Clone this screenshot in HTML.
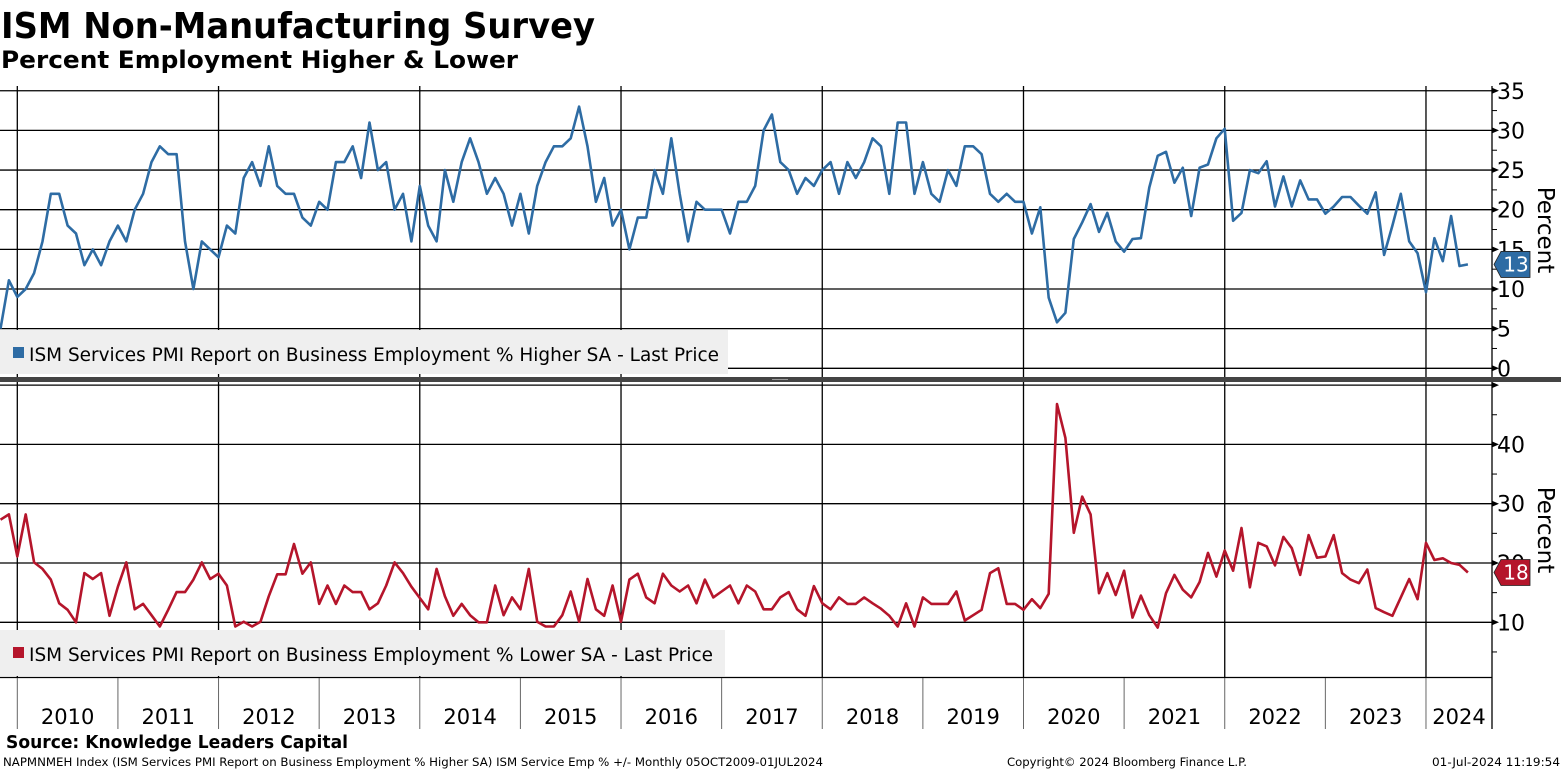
<!DOCTYPE html>
<html><head><meta charset="utf-8"><style>
html,body{margin:0;padding:0;background:#fff;}
svg{display:block;font-family:"DejaVu Sans","Liberation Sans",sans-serif;}
</style></head><body>
<svg id="chart" width="1561" height="771" viewBox="0 0 1561 771" xmlns="http://www.w3.org/2000/svg">
<text x="1" y="38" font-size="36" font-weight="bold" textLength="594" lengthAdjust="spacingAndGlyphs">ISM Non-Manufacturing Survey</text>
<text x="1" y="68" font-size="24" font-weight="bold" textLength="517" lengthAdjust="spacingAndGlyphs">Percent Employment Higher &amp; Lower</text>
<g id="grid"></g>
<rect x="0" y="330" width="728" height="44" fill="#efefef"/>
<rect x="0" y="630" width="725" height="46" fill="#efefef"/>
<g id="series"></g>
<rect x="13" y="347" width="11" height="11" fill="#2e6ca4"/>
<text x="29" y="361" font-size="19" textLength="690" lengthAdjust="spacingAndGlyphs">ISM Services PMI Report on Business Employment % Higher SA - Last Price</text>
<rect x="13" y="647" width="11" height="11" fill="#b5152b"/>
<text x="29" y="661" font-size="19" textLength="684" lengthAdjust="spacingAndGlyphs">ISM Services PMI Report on Business Employment % Lower SA - Last Price</text>
<rect x="0" y="377" width="1561" height="5" fill="#444"/>
<line x1="772" y1="379.5" x2="788" y2="379.5" stroke="#999" stroke-width="1"/>
<g id="axes"></g>
<text transform="translate(1538,230) rotate(90)" font-size="23" text-anchor="middle">Percent</text>
<text transform="translate(1538,530) rotate(90)" font-size="23" text-anchor="middle">Percent</text>
<text x="6" y="748" font-size="18" font-weight="bold" textLength="342" lengthAdjust="spacingAndGlyphs">Source: Knowledge Leaders Capital</text>
<text x="3" y="766" font-size="11.5" textLength="820" lengthAdjust="spacingAndGlyphs">NAPMNMEH Index (ISM Services PMI Report on Business Employment % Higher SA) ISM Service Emp % +/-  Monthly 05OCT2009-01JUL2024</text>
<text x="1007" y="766" font-size="11.5" textLength="240" lengthAdjust="spacingAndGlyphs">Copyright© 2024 Bloomberg Finance L.P.</text>
<text x="1432" y="766" font-size="11.5" textLength="128" lengthAdjust="spacingAndGlyphs">01-Jul-2024 11:19:54</text>
</svg>
<script>
// Monthly data, Nov 2009 .. Jun 2024
const higherValues = [5,11.1,
9,10,12,16,22,22,18,17,13,15,13,16,
18,16,20,22,26,28,27,27,16,10,16,15,
14,18,17,24,26,23,28,23,22,22,19,18,
21,20,26,26,28,24,31,25,26,20,22,16,
23,18,16,25,21,26,29,26,22,24,22,18,
22,17,23,26,28,28,29,33,28,21,24,18,
20,15,19,19,25,22,29,22,16,21,20,20,
20,17,21,21,23,30,32,26,25,22,24,23,
25,26,22,26,24,26,29,28,22,31,31,22,
26,22,21,25,23,28,28,27,22,21,22,21,
21,17,20.3,8.9,5.8,7,16.3,18.4,20.7,17.2,19.6,16,
14.7,16.3,16.4,22.8,26.8,27.3,23.4,25.3,19.2,25.3,25.7,29,
30.2,18.6,19.6,25,24.6,26.1,20.4,24.2,20.4,23.7,21.3,21.3,
19.5,20.4,21.6,21.6,20.5,19.5,22.2,14.3,18,22,16,14.5,
9.6,16.4,13.5,19.2,12.9,13.1];
const lowerValues = [27.3,28.2,
21.1,28.2,20.1,19,17.2,13.2,12.1,10,18.3,17.3,18.3,11.1,
16,20.1,12.2,13.1,11.2,9.3,12.1,15.1,15.1,17.2,20.1,17.3,
18.2,16.2,9.3,10.1,9.3,10.1,14.4,18.1,18.1,23.2,18.2,20.1,
13.1,16.2,13.1,16.2,15.1,15.1,12.2,13.2,16.2,20.1,18.3,16,
14.1,12.2,19,14.4,11.1,13.1,11.2,10,10,16.2,11.2,14.2,
12.2,19,10.1,9.3,9.3,11.2,15.2,10.1,17.3,12.2,11.1,16.2,
10.1,17.2,18.2,14.2,13.2,18.2,16.2,15.2,16.2,13.2,17.2,14.2,
15.2,16.2,13.2,16.2,15.2,12.2,12.2,14.2,15.1,12.2,11.1,16.1,
13.2,12.2,14.2,13.1,13.1,14.2,13.2,12.3,11.1,9.3,13.2,9.3,
14.2,13.1,13.1,13.1,15.2,10.3,11.2,12.1,18.3,19.1,13.1,13.1,
12.1,13.9,12.4,14.8,46.8,41.1,25.1,31.2,28.2,14.9,18.3,14.6,
18.7,10.8,14.5,11.2,9.1,14.9,18,15.5,14.2,16.8,21.7,17.7,
22.1,18.7,25.9,15.9,23.4,22.8,19.6,24.4,22.5,18,24.7,20.9,
21.1,24.7,18.3,17.2,16.6,18.9,12.4,11.7,11.1,14.2,17.3,13.9,
23.4,20.5,20.8,20,19.7,18.4];
const yearLabels = ["2010","2011","2012","2013","2014","2015","2016","2017","2018","2019","2020","2021","2022","2023","2024"];
const topTicks = [0,5,10,15,20,25,30,35];
const bottomTicks = [10,20,30,40];
const lastHigherLabel = "13";
const lastLowerLabel = "18";

const NS="http://www.w3.org/2000/svg";
const X0=17.3, MW=8.385, AXX=1492;
function xOf(i){return X0+(i-2)*MW;}
function yTop(v){return 368.3-7.93*v;}
function yBot(v){return 681.6-5.93*v;}
function mk(tag,attrs,parent){const e=document.createElementNS(NS,tag);for(const k in attrs)e.setAttribute(k,attrs[k]);parent.appendChild(e);return e;}
const grid=document.getElementById('grid'), axes=document.getElementById('axes'), series=document.getElementById('series');

topTicks.forEach(v=>{const l=mk('line',{x1:0,x2:AXX,y1:yTop(v),y2:yTop(v),stroke:'#000','stroke-width':1.3},grid);

});
bottomTicks.concat([50]).forEach(v=>{const l=mk('line',{x1:0,x2:AXX,y1:yBot(v),y2:yBot(v),stroke:'#000','stroke-width':1.3},grid);

});
for(let k=0;k<yearLabels.length;k+=2){const x=X0+k*12*MW;
 const a=mk('line',{x1:x,x2:x,y1:86,y2:377,stroke:'#000','stroke-width':1.3},grid);
 
 
 const b=mk('line',{x1:x,x2:x,y1:382,y2:677,stroke:'#000','stroke-width':1.3},grid);
 
 }

mk('line',{x1:0,x2:AXX,y1:677.5,y2:677.5,stroke:'#000','stroke-width':1.3},axes);
yearLabels.forEach((y,k)=>{const x=X0+k*12*MW;
 const t=mk('line',{x1:x,x2:x,y1:678,y2:729,stroke:'#666','stroke-width':1},axes);
 
 
 const xe=Math.min(X0+(k+1)*12*MW,AXX);
 const lab=mk('text',{x:(x+xe)/2,y:724,'font-size':21,'text-anchor':'middle'},axes);lab.textContent=y;
 
 });

mk('line',{x1:AXX,x2:AXX,y1:86,y2:377,stroke:'#000','stroke-width':1.3},axes);
mk('line',{x1:AXX,x2:AXX,y1:382,y2:729,stroke:'#000','stroke-width':1.3},axes);
function tickArrow(y){mk('path',{d:`M${AXX} ${y-3}L${AXX+7} ${y}L${AXX} ${y+3}Z`,fill:'#000'},axes);}
for(let v=0;v<=37.5;v+=2.5){const y=yTop(v);if(y<86)continue;
 if(v%5===0){tickArrow(y);}else mk('line',{x1:AXX,x2:AXX+5,y1:y,y2:y,stroke:'#000'},axes);}
topTicks.forEach(v=>{const t=mk('text',{x:AXX+5,y:yTop(v)+8,'font-size':22},axes);t.textContent=v;
 
 });
for(let v=5;v<=50;v+=5){const y=yBot(v);if(v%10===0)tickArrow(y);else mk('line',{x1:AXX,x2:AXX+5,y1:y,y2:y,stroke:'#000'},axes);}
bottomTicks.forEach(v=>{const t=mk('text',{x:AXX+5,y:yBot(v)+8,'font-size':22},axes);t.textContent=v;
 
 });

function line(vals,yf,color,name){const d=vals.map((v,i)=>(i?'L':'M')+xOf(i).toFixed(1)+' '+yf(v).toFixed(1)).join('');
 const p=mk('path',{d:d,fill:'none',stroke:color,'stroke-width':2.6,'stroke-linejoin':'round'},series);
 
 }
line(higherValues,yTop,'#2e6ca4','higher-series-line');
line(lowerValues,yBot,'#b5152b','lower-series-line');

function tag(v,yf,color,label,name){const y=yf(v);
 const g=mk('g',{},axes);
 
 
 mk('path',{d:`M${AXX+2} ${y}L${AXX+9} ${y-13}L${AXX+38} ${y-13}L${AXX+38} ${y+13}L${AXX+9} ${y+13}Z`,fill:color,stroke:'#222','stroke-width':0.8},g);
 const t=mk('text',{x:AXX+24,y:y+7,'font-size':20,'text-anchor':'middle',fill:'#fff'},g);t.textContent=label;}
tag(higherValues[higherValues.length-1],yTop,'#2e6ca4',lastHigherLabel,'higher-last-value-tag');
tag(lowerValues[lowerValues.length-1],yBot,'#b5152b',lastLowerLabel,'lower-last-value-tag');
</script>
</body></html>
